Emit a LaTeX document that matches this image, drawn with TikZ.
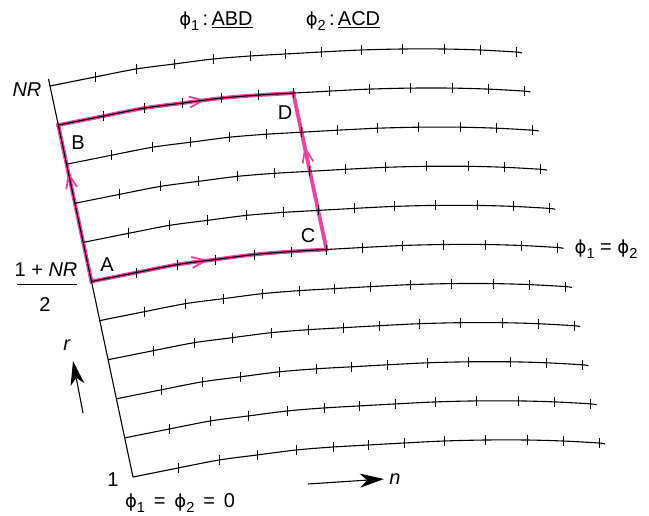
\documentclass[tikz,border=0pt]{standalone}
\usepackage{fontspec}
\setmainfont{Liberation Sans}
\newfontfamily\djv{DejaVu Sans}
\usetikzlibrary{arrows.meta,decorations.markings,calc}
\definecolor{pinkline}{RGB}{232,70,158}
\newcommand\vphi{{\djv\fontsize{18}{18}\selectfont ϕ}}
\newcommand\lowsub[1]{\raisebox{-0.45ex}{\fontsize{14.5}{14.5}\selectfont #1}}
\tikzset{
  rowline/.style={line width=1.1pt, black},
  tickline/.style={line width=1pt, black},
  pinkpath/.style={line width=3.8pt, pinkline, line cap=rect},
  midarrow/.style={postaction={decorate,decoration={markings,
     mark=at position #1 with {\arrow{Straight Barb[length=14pt,width=11pt,line width=1.8pt]}}}}},
  lbl/.style={font=\fontsize{20}{23}\selectfont, inner sep=0pt},
  bigarrow/.style={line width=1.1pt, -{Stealth[length=24pt,width=14pt,inset=7pt]}}
}
\begin{document}
\begin{tikzpicture}[x=1pt,y=-1pt]
\useasboundingbox (0,0) rectangle (649,515);
% pink path
\begin{scope}[shift={({-8.3*5},{-39.1*5})}]
  \coordinate (A) at (133,477);
  \coordinate (C) at (368,445);
  \draw[pinkpath, midarrow=0.5] plot[smooth] coordinates {(133,477) (178,468) (219,460) (257,455) (296,450) (333,447) (368,445)};
\end{scope}
\begin{scope}[shift={({-8.3*9},{-39.1*9})}]
  \coordinate (B) at (133,477);
  \coordinate (D) at (368,445);
  \draw[pinkpath, midarrow=0.63] plot[smooth] coordinates {(133,477) (178,468) (219,460) (257,455) (296,450) (333,447) (368,445)};
\end{scope}
\draw[pinkpath, midarrow=0.7] (A) -- (B);
\draw[pinkpath, midarrow=0.66] (C) -- (D);
% rows
\foreach \k in {0,...,10}{
  \begin{scope}[shift={({-8.3*\k},{-39.1*\k})}]
    \coordinate (s\k) at (133,477);
    \draw[rowline] plot[smooth] coordinates {(133,477) (178,468) (219,460) (257,455) (296,450) (333,447) (368,445) (404,443) (444,441) (485,440) (527,440) (563,441) (599,443) (605,444)};
    \foreach \x/\y in {178/468,219/460,257/455,296/450,333/447,368/445,404/443,444/441,485/440,527/440,563/441,599/443}
      \draw[tickline] (\x,{\y-5}) -- (\x,{\y+5});
  \end{scope}
}
\coordinate (axtop) at ($(s10)!-0.18!(s9)$);
\draw[rowline] (s0) -- (axtop);
% labels
\node[lbl] (t1) at (216,21) {\vphi\lowsub{1}\,:\,\underline{ABD}};
\node[lbl] (t2) at (343,21) {\vphi\lowsub{2}\,:\,\underline{ACD}};
\node[lbl] (nr) at (27,90) {\textit{NR}};
\node[lbl] (lB) at (78,143) {B};
\node[lbl] (lD) at (285,113) {D};
\node[lbl] (lC) at (308,236) {C};
\node[lbl] (lA) at (107,265) {A};
\node[lbl] (num) at (46,270) {1 + \textit{NR}};
\node[lbl] (den) at (45,305) {2};
\draw[line width=1pt] (17,284) -- (77,284);
\node[lbl] (r) at (67,345) {\textit{r}};
\coordinate (ra) at (83,413);
\coordinate (rb) at (73,361);
\draw[bigarrow] (ra) -- (rb);
\node[lbl] (one) at (113,480) {1};
\node[lbl] (zero) at (180,503) {\vphi\lowsub{1}\ \,=\ \,\vphi\lowsub{2}\ \,=\ \,0};
\node[lbl] (eq) at (606,249) {\vphi\lowsub{1}\ =\ \vphi\lowsub{2}};
\coordinate (na) at (308,484);
\coordinate (nb) at (384,479);
\draw[bigarrow] (na) -- (nb);
\node[lbl] (n) at (395,479) {\textit{n}};
\end{tikzpicture}
\end{document}
